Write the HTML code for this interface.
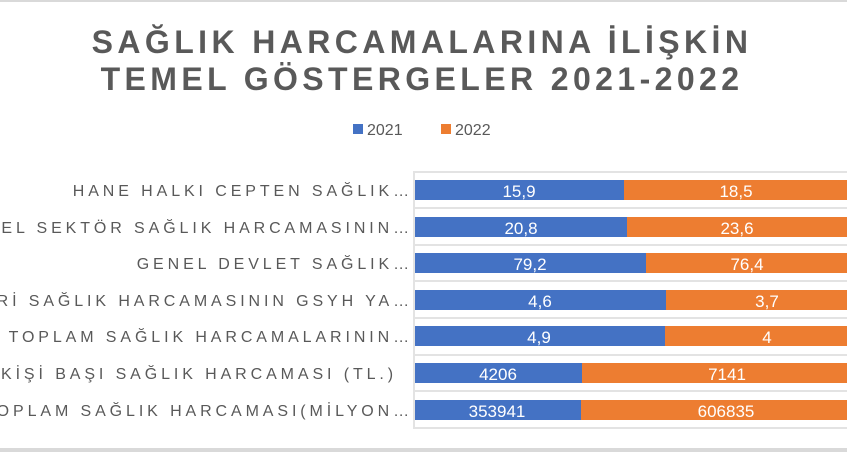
<!DOCTYPE html>
<html><head><meta charset="utf-8"><style>
html,body{margin:0;padding:0;background:#fff;}
svg{display:block;}
.t{font-family:"Liberation Sans",sans-serif;font-weight:bold;font-size:32px;fill:#595959;letter-spacing:4.4px;}
.l{font-family:"Liberation Sans",sans-serif;font-size:16px;fill:#595959;letter-spacing:3.9px;}
.v{font-family:"Liberation Sans",sans-serif;font-size:17px;fill:#fff;}
.g{font-family:"Liberation Sans",sans-serif;font-size:16px;fill:#595959;}
</style></head><body>
<svg width="847" height="452" viewBox="0 0 847 452">
<rect x="0" y="0" width="847" height="2" fill="#d9d9d9"/>
<rect x="0" y="448" width="847" height="4" fill="#d9d9d9"/>
<text class="t" x="422" y="53" text-anchor="middle">SAĞLIK HARCAMALARINA İLİŞKİN</text>
<text class="t" x="422" y="90" text-anchor="middle">TEMEL GÖSTERGELER 2021-2022</text>
<rect x="353" y="124" width="10" height="10" fill="#4472c4"/>
<text class="g" x="367" y="135">2021</text>
<rect x="441" y="124" width="10" height="10" fill="#ed7d31"/>
<text class="g" x="455" y="135">2022</text>
<g stroke="#e3e3e3" stroke-width="2">
<line x1="414" y1="172" x2="847" y2="172"/>
<line x1="414" y1="208" x2="847" y2="208"/>
<line x1="414" y1="245" x2="847" y2="245"/>
<line x1="414" y1="281" x2="847" y2="281"/>
<line x1="414" y1="318" x2="847" y2="318"/>
<line x1="414" y1="355" x2="847" y2="355"/>
<line x1="414" y1="391" x2="847" y2="391"/>
<line x1="414" y1="428" x2="847" y2="428"/>
<line x1="414" y1="171" x2="414" y2="429"/>
</g>
<g>
<rect x="415" y="180" width="209" height="20" fill="#4472c4"/><rect x="624" y="180" width="223" height="20" fill="#ed7d31"/>
<rect x="415" y="217" width="212" height="20" fill="#4472c4"/><rect x="627" y="217" width="220" height="20" fill="#ed7d31"/>
<rect x="415" y="253" width="231" height="20" fill="#4472c4"/><rect x="646" y="253" width="201" height="20" fill="#ed7d31"/>
<rect x="415" y="290" width="251" height="20" fill="#4472c4"/><rect x="666" y="290" width="181" height="20" fill="#ed7d31"/>
<rect x="415" y="326" width="250" height="20" fill="#4472c4"/><rect x="665" y="326" width="182" height="20" fill="#ed7d31"/>
<rect x="415" y="363" width="167" height="20" fill="#4472c4"/><rect x="582" y="363" width="265" height="20" fill="#ed7d31"/>
<rect x="415" y="400" width="166" height="20" fill="#4472c4"/><rect x="581" y="400" width="266" height="20" fill="#ed7d31"/>
</g>
<g text-anchor="middle">
<text class="v" x="519" y="197">15,9</text><text class="v" x="736" y="197">18,5</text>
<text class="v" x="521" y="234">20,8</text><text class="v" x="737" y="234">23,6</text>
<text class="v" x="530" y="270">79,2</text><text class="v" x="747" y="270">76,4</text>
<text class="v" x="540" y="307">4,6</text><text class="v" x="767" y="307">3,7</text>
<text class="v" x="539" y="343">4,9</text><text class="v" x="767" y="343">4</text>
<text class="v" x="498" y="380">4206</text><text class="v" x="727" y="380">7141</text>
<text class="v" x="497" y="417">353941</text><text class="v" x="726" y="417">606835</text>
</g>
<g text-anchor="end">
<text class="l" x="413" y="196">HANE HALKI CEPTEN SAĞLIK…</text>
<text class="l" x="413" y="233">GENEL SEKTÖR SAĞLIK HARCAMASININ…</text>
<text class="l" x="413" y="269">GENEL DEVLET SAĞLIK…</text>
<text class="l" x="413" y="306">CARİ SAĞLIK HARCAMASININ GSYH YA…</text>
<text class="l" x="413" y="342">TOPLAM SAĞLIK HARCAMALARININ…</text>
<text class="l" x="397" y="379">KİŞİ BAŞI SAĞLIK HARCAMASI (TL.)</text>
<text class="l" x="413" y="416">TOPLAM SAĞLIK HARCAMASI(MİLYON…</text>
</g>
</svg>
</body></html>
